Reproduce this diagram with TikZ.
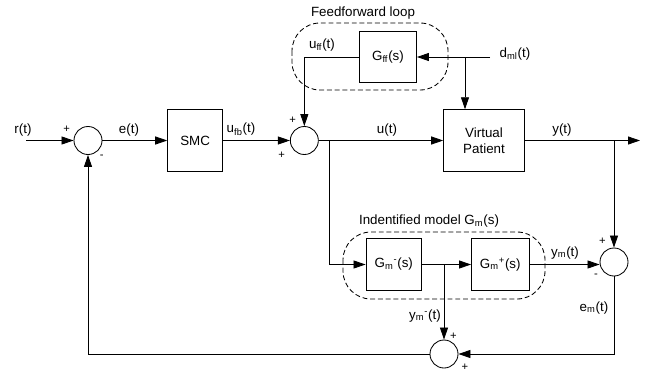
\documentclass[tikz,border=0pt]{standalone}
\usepackage{fontspec}
\setmainfont{Liberation Sans}
\usetikzlibrary{arrows.meta, positioning}

\begin{document}
\begin{tikzpicture}[
  x=0.025cm, y=-0.025cm, line width=0.6pt,
  font=\fontsize{9.5}{11.5}\selectfont,
  block/.style={rectangle, draw, minimum height=1.55cm, align=center, inner sep=1pt},
  sumnode/.style={circle, draw, minimum size=0.7cm, inner sep=0pt},
  sign/.style={font=\fontsize{8}{9}\selectfont, inner sep=0pt},
  lbl/.style={inner sep=0pt},
  arr/.style={-{Triangle[length=0.3cm, width=0.2cm]}},
  group/.style={draw, dash pattern=on 3.5pt off 2pt, rounded corners=0.7cm}
]
\useasboundingbox (0,0) rectangle (652,376);

% main loop
\node[sumnode] (sum1) at (88,140.5) {};
\node[block, minimum width=1.375cm, right=1.62cm of sum1] (smc) {SMC};
\node[sumnode, right=1.67cm of smc] (sum2) {};
\node[block, minimum width=2.02cm, minimum height=1.54cm, right=3.11cm of sum2] (vp) {Virtual\\Patient};

% feedforward
\node[block, minimum width=1.425cm, minimum height=1.275cm] (gff) at (388,57) {G\textsubscript{ff}(s)};

% identified model
\node[block, minimum width=1.39cm, minimum height=1.29cm] (gmm) at (393.8,264.5) {G\textsubscript{m}\textsuperscript{-}(s)};
\node[block, minimum width=1.44cm, minimum height=1.29cm, right=1.225cm of gmm] (gmp) {G\textsubscript{m}\textsuperscript{+}(s)};
\node[sumnode] (sum3) at (614,262) {};
\node[sumnode] (sum4) at (444,354) {};

% groups
\draw[group] (292,23) rectangle (448,90);
\draw[group] (343,232) rectangle (545,299);
\node[lbl] (fflab) at (363,13.5) {Feedforward loop};
\node[lbl] (gmlab) at (429,221.5) {Indentified model G\textsubscript{m}(s)};

% free ends and branch points
\coordinate (in) at (26,140.5);
\coordinate (out) at (640,140.5);
\coordinate (dist) at (490,57);
\coordinate (dj) at (465,57);
\coordinate (ub) at (329.3,140.5);
\coordinate (yb) at (sum3 |- vp.east);
\coordinate (ymb) at (sum4 |- gmm.east);

% connectors
\draw[arr] (in) -- (sum1.west);
\draw[arr] (sum1) -- (smc);
\draw[arr] (smc) -- (sum2);
\draw[arr] (sum2) -- (vp);
\draw[arr] (vp.east) -- (out);
\draw[arr] (dist) -- (gff.east);
\draw[arr] (dj) -- (dj |- vp.north);
\draw[arr] (gff.west) -| (sum2.north);
\draw[arr] (ub) |- (gmm.west);
\draw[arr] (gmm) -- (gmp);
\draw[arr] (gmp.east) -- (gmp.east -| sum3.west);
\draw[arr] (yb) -- (sum3.north);
\draw[arr] (ymb) -- (sum4.north);
\draw[arr] (sum3.south) |- (sum4.east);
\draw[arr] (sum4.west) -| (sum1.south);

% signal labels
\node[lbl] (rlab) at (23,130) {r(t)};
\node[lbl] (elab) at (129,130) {e(t)};
\node[lbl] (ufblab) at (241,129.5) {u\textsubscript{fb}(t)};
\node[lbl] (ulab) at (387,130) {u(t)};
\node[lbl] (ylab) at (562,130) {y(t)};
\node[lbl] (ufflab) at (322,45) {u\textsubscript{ff}(t)};
\node[lbl] (dlab) at (515,54) {d\textsubscript{ml}(t)};
\node[lbl] (ymlab) at (565,253) {y\textsubscript{m}(t)};
\node[lbl] (ymmlab) at (425,316) {y\textsubscript{m}\textsuperscript{-}(t)};
\node[lbl] (emlab) at (594,308) {e\textsubscript{m}(t)};

% signs
\node[sign] (s1a) at (66.7,129) {+};
\node[sign] (s1b) at (101.7,157) {-};
\node[sign] (s2a) at (292.7,120) {+};
\node[sign] (s2b) at (281.7,155) {+};
\node[sign] (s3a) at (602.3,241.7) {+};
\node[sign] (s3b) at (596,276) {-};
\node[sign] (s4a) at (453.3,336) {+};
\node[sign] (s4b) at (465,367.7) {+};
\end{tikzpicture}
\end{document}
